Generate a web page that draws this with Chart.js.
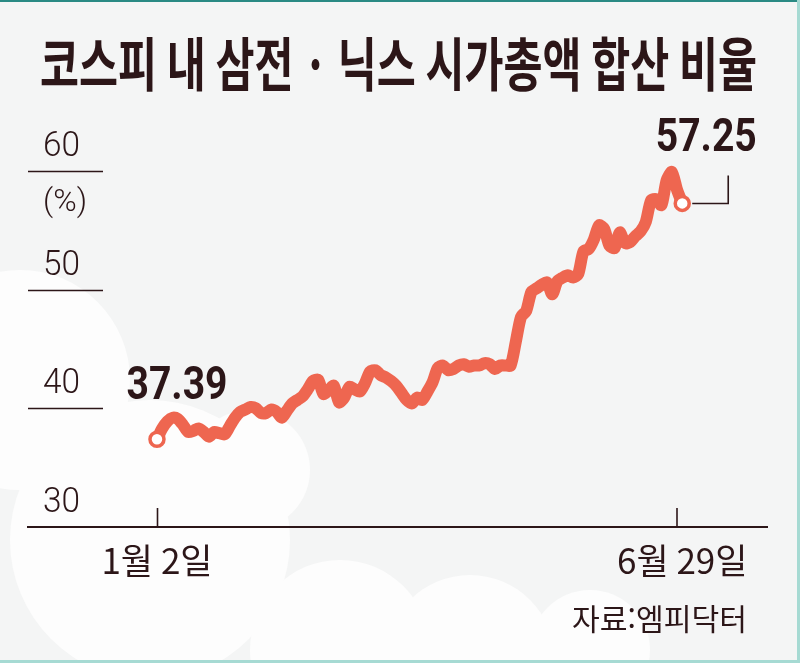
<!DOCTYPE html>
<html lang="ko">
<head>
<meta charset="UTF-8">
<title>코스피 내 삼전·닉스 시가총액 합산 비율</title>
<script src="https://cdn.jsdelivr.net/npm/chart.js"></script>
<style>
    html, body { margin: 0; padding: 0; background: #f6f7f7; }
    #wrap { width: 800px; height: 663px; }
</style>
</head>
<body>
<div id="wrap"><canvas id="myChart" width="800" height="663"></canvas></div>
<script>
// 제목, 출처, 눈금
var chartTitle = '코스피 내 삼전 · 닉스 시가총액 합산 비율';
var sourceText = '자료:엠피닥터';
var unitText = '(%)';
var yTicks = [60, 50, 40, 30];
var dateLabels = ['1월 2일', '6월 29일'];

// 1월 2일 ~ 6월 29일 합산 비율(%)
var ratio = [
    37.39, 38.3, 38.9, 39.2, 39.1, 38.6, 38.0, 38.1, 38.3, 38.0,
    37.6, 38.0, 37.9, 37.8, 38.5, 39.2, 39.7, 39.9, 40.1, 40.0,
    39.6, 39.6, 39.9, 39.7, 39.2, 39.8, 40.4, 40.7, 41.0, 41.6,
    42.3, 42.4, 41.2, 41.5, 41.9, 40.5, 40.9, 41.8, 41.6, 41.4,
    42.1, 43.1, 43.2, 42.8, 42.6, 42.3, 41.9, 41.3, 40.7, 40.4,
    40.9, 40.7, 41.4, 42.2, 43.4, 43.6, 43.2, 43.3, 43.6, 43.7,
    43.5, 43.6, 43.6, 43.8, 43.7, 43.3, 43.6, 43.6, 43.6, 45.6,
    47.7, 48.2, 49.8, 50.1, 50.4, 50.6, 49.6, 50.7, 51.0, 51.2,
    51.0, 51.3, 53.2, 53.4, 54.2, 55.4, 55.1, 53.7, 53.5, 54.8,
    53.9, 54.0, 54.5, 54.9, 55.7, 57.5, 57.6, 57.1, 59.2, 59.9,
    58.4, 57.25
];

var INK = '#2c1618';
var RED = '#ee6650';
var last = ratio.length - 1;

// 가로로 눌린 글씨 (폭 맞춤)
function fitText(ctx, text, x, y, font, width, align) {
    ctx.save();
    ctx.font = font;
    var w = ctx.measureText(text).width;
    var sx = width / w;
    ctx.translate(x, y);
    ctx.scale(sx, 1);
    ctx.textAlign = align || 'left';
    ctx.textBaseline = 'alphabetic';
    ctx.fillStyle = INK;
    ctx.fillText(text, 0, 0);
    ctx.restore();
}

var decor = {
    id: 'decor',
    beforeDraw: function(chart) {
        var ctx = chart.ctx;
        ctx.save();
        ctx.fillStyle = '#f4f5f5';
        ctx.fillRect(0, 0, 800, 663);
        // 배경 구름
        ctx.fillStyle = '#fdfdfd';
        [[20, 380, 110], [150, 540, 140], [250, 470, 60], [340, 650, 90], [470, 660, 85], [590, 650, 60]].forEach(function(c) {
            ctx.beginPath();
            ctx.arc(c[0], c[1], c[2], 0, Math.PI * 2);
            ctx.fill();
        });
        ctx.fillStyle = '#2a8a84';
        ctx.fillRect(0, 0, 800, 2);
        ctx.fillStyle = '#a6dad3';
        ctx.fillRect(0, 660, 800, 3);
        ctx.fillRect(797, 0, 3, 663);
        ctx.restore();

        fitText(ctx, chartTitle, 40, 86, 'bold 58px "Noto Sans CJK KR"', 717);
    },
    afterDatasetsDraw: function(chart) {
        var ctx = chart.ctx;
        var xs = chart.scales.x, ys = chart.scales.y;
        var left = chart.chartArea.left;
        ctx.save();
        ctx.strokeStyle = INK;
        ctx.lineWidth = 1.6;

        // y 눈금 (짧은 선 + 숫자)
        yTicks.forEach(function(v) {
            var py = Math.round(ys.getPixelForValue(v)) + 0.5;
            if (v !== 30) {
                ctx.beginPath();
                ctx.moveTo(left, py);
                ctx.lineTo(left + 75, py);
                ctx.stroke();
            }
            fitText(ctx, String(v), 43, py - 16, '300 35px Roboto', 37);
        });
        fitText(ctx, unitText, 43, ys.getPixelForValue(60) + 40, '300 32px Roboto', 44);

        // x 눈금 (위로)
        var by = ys.getPixelForValue(30);
        [0, last].forEach(function(i) {
            var px = Math.round(xs.getPixelForValue(i)) - 5.5 * (i === last ? 1 : 0) + 0.5;
            ctx.beginPath();
            ctx.moveTo(px, by);
            ctx.lineTo(px, by - 19);
            ctx.stroke();
        });

        // 시작/끝 값
        var p0x = xs.getPixelForValue(0), p0y = ys.getPixelForValue(ratio[0]);
        var p1x = xs.getPixelForValue(last), p1y = ys.getPixelForValue(ratio[last]);
        fitText(ctx, ratio[0].toFixed(2), p0x + 20, p0y - 40, 'bold 46px Roboto', 101, 'center');
        fitText(ctx, ratio[last].toFixed(2), p1x + 24, p1y - 52, 'bold 46px Roboto', 101, 'center');

        ctx.beginPath();
        ctx.moveTo(p1x + 10, Math.round(p1y) + 0.5);
        ctx.lineTo(p1x + 46, Math.round(p1y) + 0.5);
        ctx.lineTo(p1x + 46, p1y - 28);
        ctx.stroke();

        // 출처
        fitText(ctx, sourceText, 747, 630, '30px "Noto Sans CJK KR"', 175, 'right');
        ctx.restore();
    }
};

var ctx = document.getElementById('myChart');
new Chart(ctx, {
    type: 'line',
    data: {
        datasets: [{
            data: ratio.map(function(v, i) { return { x: i, y: v }; }),
            borderColor: RED,
            borderWidth: 12,
            borderCapStyle: 'round',
            borderJoinStyle: 'round',
            tension: 0.25,
            pointRadius: function(c) { return (c.dataIndex === 0 || c.dataIndex === last) ? 7 : 0; },
            pointBackgroundColor: '#ffffff',
            pointBorderColor: RED,
            pointBorderWidth: 3.5
        }]
    },
    options: {
        responsive: false,
        animation: false,
        events: [],
        layout: { padding: { left: 28, right: 33, top: 147, bottom: 76 } },
        plugins: { legend: { display: false }, tooltip: { enabled: false } },
        scales: {
            x: {
                type: 'linear',
                min: -24.8,
                max: 117.3,
                grid: { display: false, drawTicks: false },
                border: { display: true, color: INK, width: 2 },
                afterBuildTicks: function(s) { s.ticks = [{ value: 0 }, { value: last }]; },
                afterFit: function(s) { s.height = 60; },
                ticks: {
                    autoSkip: false,
                    maxRotation: 0,
                    padding: 13,
                    color: INK,
                    font: { family: 'Noto Sans CJK KR', size: 35 },
                    callback: function(v) { return v === 0 ? dateLabels[0] : dateLabels[1]; }
                }
            },
            y: {
                display: false,
                min: 30,
                max: 62
            }
        }
    },
    plugins: [decor]
});
</script>
</body>
</html>
